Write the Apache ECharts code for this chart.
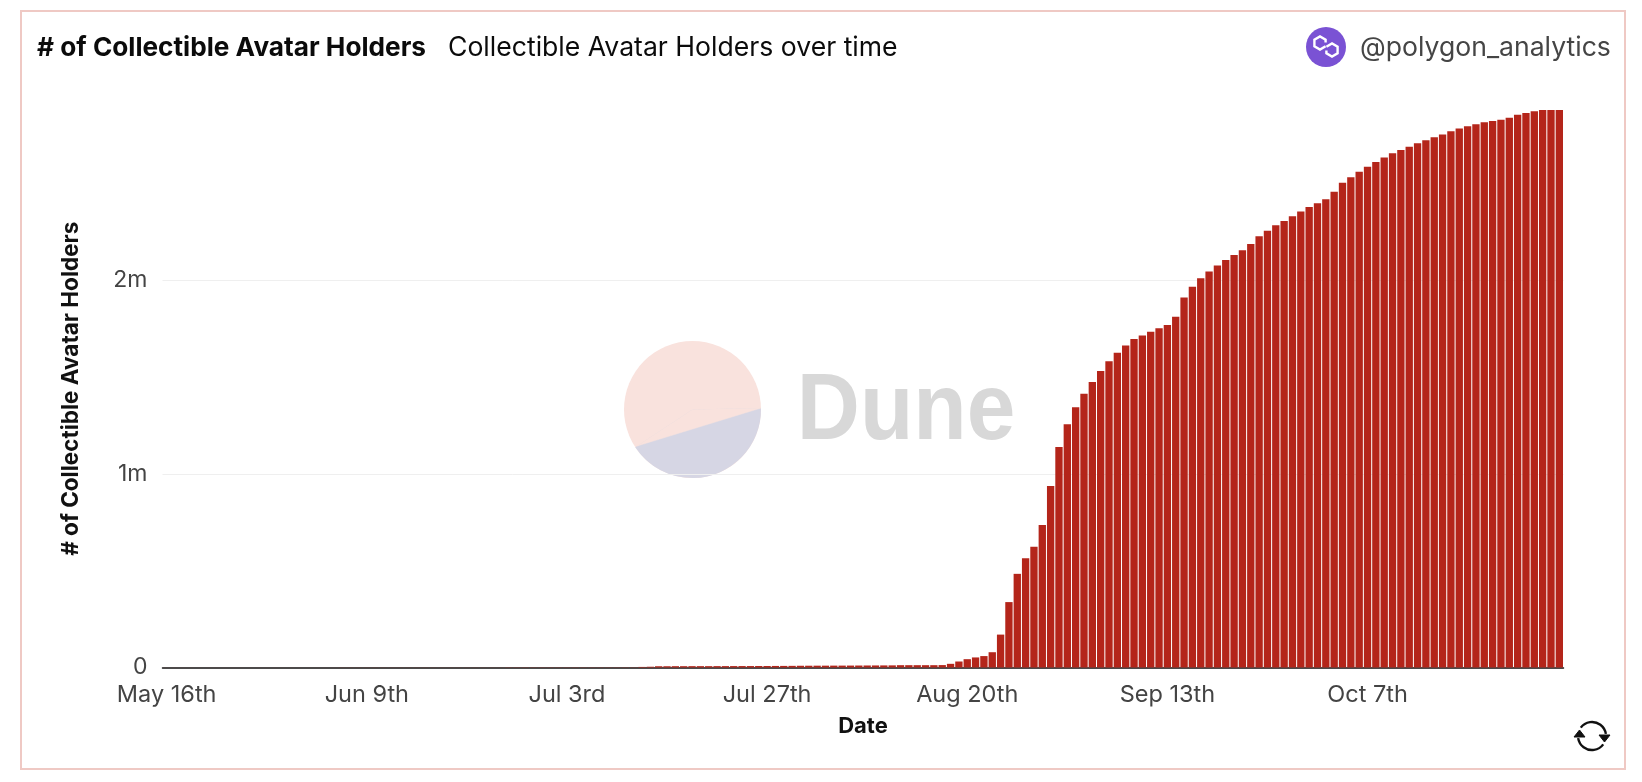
<!DOCTYPE html>
<html>
<head>
<meta charset="utf-8">
<style>html,body{margin:0;padding:0;background:#fff}#c{width:1642px;height:782px}</style>
<script src="https://cdn.jsdelivr.net/npm/echarts@6/dist/echarts.min.js"></script>
</head>
<body>
<div id="c"></div>
<script>
const chartTitle = '# of Collectible Avatar Holders';
const chartSubtitle = 'Collectible Avatar Holders over time';
const owner = '@polygon_analytics';
const xName = 'Date';
const yName = '# of Collectible Avatar Holders';

const dates = [
 'May 16th','May 17th','May 18th','May 19th','May 20th','May 21st','May 22nd','May 23rd','May 24th','May 25th','May 26th','May 27th','May 28th','May 29th','May 30th','May 31st',
 'Jun 1st','Jun 2nd','Jun 3rd','Jun 4th','Jun 5th','Jun 6th','Jun 7th','Jun 8th','Jun 9th','Jun 10th','Jun 11th','Jun 12th','Jun 13th','Jun 14th','Jun 15th','Jun 16th','Jun 17th','Jun 18th','Jun 19th','Jun 20th','Jun 21st','Jun 22nd','Jun 23rd','Jun 24th','Jun 25th','Jun 26th','Jun 27th','Jun 28th','Jun 29th','Jun 30th',
 'Jul 1st','Jul 2nd','Jul 3rd','Jul 4th','Jul 5th','Jul 6th','Jul 7th','Jul 8th','Jul 9th','Jul 10th','Jul 11th','Jul 12th','Jul 13th','Jul 14th','Jul 15th','Jul 16th','Jul 17th','Jul 18th','Jul 19th','Jul 20th','Jul 21st','Jul 22nd','Jul 23rd','Jul 24th','Jul 25th','Jul 26th','Jul 27th','Jul 28th','Jul 29th','Jul 30th','Jul 31st',
 'Aug 1st','Aug 2nd','Aug 3rd','Aug 4th','Aug 5th','Aug 6th','Aug 7th','Aug 8th','Aug 9th','Aug 10th','Aug 11th','Aug 12th','Aug 13th','Aug 14th','Aug 15th','Aug 16th','Aug 17th','Aug 18th','Aug 19th','Aug 20th','Aug 21st','Aug 22nd','Aug 23rd','Aug 24th','Aug 25th','Aug 26th','Aug 27th','Aug 28th','Aug 29th','Aug 30th','Aug 31st',
 'Sep 1st','Sep 2nd','Sep 3rd','Sep 4th','Sep 5th','Sep 6th','Sep 7th','Sep 8th','Sep 9th','Sep 10th','Sep 11th','Sep 12th','Sep 13th','Sep 14th','Sep 15th','Sep 16th','Sep 17th','Sep 18th','Sep 19th','Sep 20th','Sep 21st','Sep 22nd','Sep 23rd','Sep 24th','Sep 25th','Sep 26th','Sep 27th','Sep 28th','Sep 29th','Sep 30th',
 'Oct 1st','Oct 2nd','Oct 3rd','Oct 4th','Oct 5th','Oct 6th','Oct 7th','Oct 8th','Oct 9th','Oct 10th','Oct 11th','Oct 12th','Oct 13th','Oct 14th','Oct 15th','Oct 16th','Oct 17th','Oct 18th','Oct 19th','Oct 20th','Oct 21st','Oct 22nd','Oct 23rd','Oct 24th','Oct 25th','Oct 26th','Oct 27th','Oct 28th','Oct 29th','Oct 30th'
];

const holders = [
 200,200,200,200,200,200,200,200,200,200,200,200,200,200,200,200,200,200,200,200,200,
 500,500,500,500,500,500,500,500,500,500,500,500,500,500,500,500,500,500,500,500,
 1000,1000,1000,1000,1000,1000,1000,1000,1000,1000,1000,1000,1000,1000,1000,1000,
 3000,4000,
 6500,6500,6800,6800,7000,7000,7000,7200,7200,7400,7500,7500,7700,7800,8000,8200,8500,
 9000,9200,9400,9500,9700,9800,10000,10200,10400,10600,10800,11000,
 12000,12000,12000,12000,12000,12500,19000,31000,43000,52000,59000,79000,
 170000,338000,484000,565000,624000,736000,938000,1139000,1257000,1345000,1415000,1476000,1532000,1582000,1626000,1664000,1698000,1716000,1735000,1753000,1770000,1812000,1912000,1967000,2012000,
 2046000,2077000,2106000,2132000,2156000,2189000,2228000,2257000,2285000,2307000,2332000,2357000,2380000,2399000,2420000,2459000,2505000,2533000,2562000,2588000,2612000,2635000,2657000,2674000,2691000,2709000,2725000,2740000,2755000,2771000,2785000,2797000,2807000,2818000,2824000,2831000,2841000,
 2857000,2866000,2874000,2881000,2881000,2881000
];

const FONT = 'Inter, sans-serif';
const chart = echarts.init(document.getElementById('c'), null, {renderer:'canvas'});
const icon = {fill:'none',stroke:'#fff',lineWidth:2.4};
const refresh = {fill:'none',stroke:'#111',lineWidth:2.4};
chart.setOption({
  animation:false,
  backgroundColor:'#fff',
  grid:{left:162.5,right:78.5,top:110,bottom:114.5,containLabel:false},
  xAxis:{
    type:'category',data:dates,boundaryGap:true,
    name:xName,nameLocation:'middle',nameGap:48,
    nameTextStyle:{fontFamily:FONT,fontWeight:'bold',fontSize:22,color:'#111'},
    axisLine:{show:true,lineStyle:{color:'#111',width:1.5}},
    axisTick:{show:false},
    axisLabel:{interval:23,margin:15.5,fontFamily:FONT,fontSize:23.5,color:'#444',hideOverlap:false}
  },
  yAxis:{
    type:'value',min:0,max:2881000,interval:1000000,
    name:yName,nameLocation:'middle',nameGap:80,
    nameTextStyle:{fontFamily:FONT,fontWeight:'bold',fontSize:22.5,color:'#111'},
    axisLine:{show:false},axisTick:{show:false},
    splitLine:{show:true,showMinLine:false,showMaxLine:false,lineStyle:{color:'#efefef',width:1}},
    axisLabel:{showMaxLabel:false,margin:15,fontFamily:FONT,fontSize:23,color:'#444',
      formatter:v=>v===0?'0':(v/1000000)+'m'}
  },
  series:[{type:'bar',data:holders,barCategoryGap:'12%',itemStyle:{color:'#b4251a'},silent:true}],
  graphic:[
    {type:'rect',z:-1,shape:{x:21,y:11,width:1604,height:758},style:{fill:'none',stroke:'#efc9c4',lineWidth:2}},
    {type:'text',x:37,y:48,style:{text:chartTitle,fontFamily:FONT,fontWeight:'bold',fontSize:26.2,fill:'#0b0b0b',textVerticalAlign:'middle'}},
    {type:'text',x:448,y:48,style:{text:chartSubtitle,fontFamily:FONT,fontSize:26.6,fill:'#0b0b0b',textVerticalAlign:'middle'}},
    {type:'circle',shape:{cx:1326,cy:47,r:20},style:{fill:'#7a52d4'}},
    {type:'polyline',shape:{points:[[1325.6,46.25],[1320,49.5],[1314.4,46.25],[1314.4,39.75],[1320,36.5],[1325.6,39.75],[1325.6,42.5]]},style:icon},
    {type:'polyline',shape:{points:[[1326.4,46.75],[1332,43.5],[1337.6,46.75],[1337.6,53.25],[1332,56.5],[1326.4,53.25],[1326.4,50.5]]},style:icon},
    {type:'text',x:1360,y:48,style:{text:owner,fontFamily:FONT,fontSize:26.6,fill:'#454545',textVerticalAlign:'middle'}},
    {type:'circle',z:-1,shape:{cx:692.5,cy:409.5,r:68.5},style:{fill:'#f9e2dd'}},
    {type:'sector',z:-1,shape:{cx:692.5,cy:409.5,r:68.5,r0:0,startAngle:-0.0218,endAngle:2.56,clockwise:true},style:{fill:'#d6d6e4'}},
    {type:'polygon',z:-1,shape:{points:[[692.5,409.5],[761,408],[637,446]]},style:{fill:'#f9e2dd',stroke:'#f9e2dd',lineWidth:0.5}},
    {type:'text',z:-1,x:733,y:413,scaleX:0.92,originX:798,style:{text:'Dune',fontFamily:'"Liberation Sans", sans-serif',fontWeight:'bold',fontSize:95,fill:'#d8d8d8',textVerticalAlign:'middle'}},
    {type:'arc',shape:{cx:1592,cy:736,r:14,startAngle:-2.5,endAngle:-0.15,clockwise:true},style:refresh},
    {type:'arc',shape:{cx:1592,cy:736,r:14,startAngle:0.64,endAngle:2.99,clockwise:true},style:refresh},
    {type:'polygon',shape:{points:[[1599,735],[1610,735],[1604.5,742]]},style:{fill:'#111',stroke:'#111',lineWidth:1}},
    {type:'polygon',shape:{points:[[1574,737],[1585,737],[1579.5,730]]},style:{fill:'#111',stroke:'#111',lineWidth:1}}
  ]
});
</script>
</body>
</html>
